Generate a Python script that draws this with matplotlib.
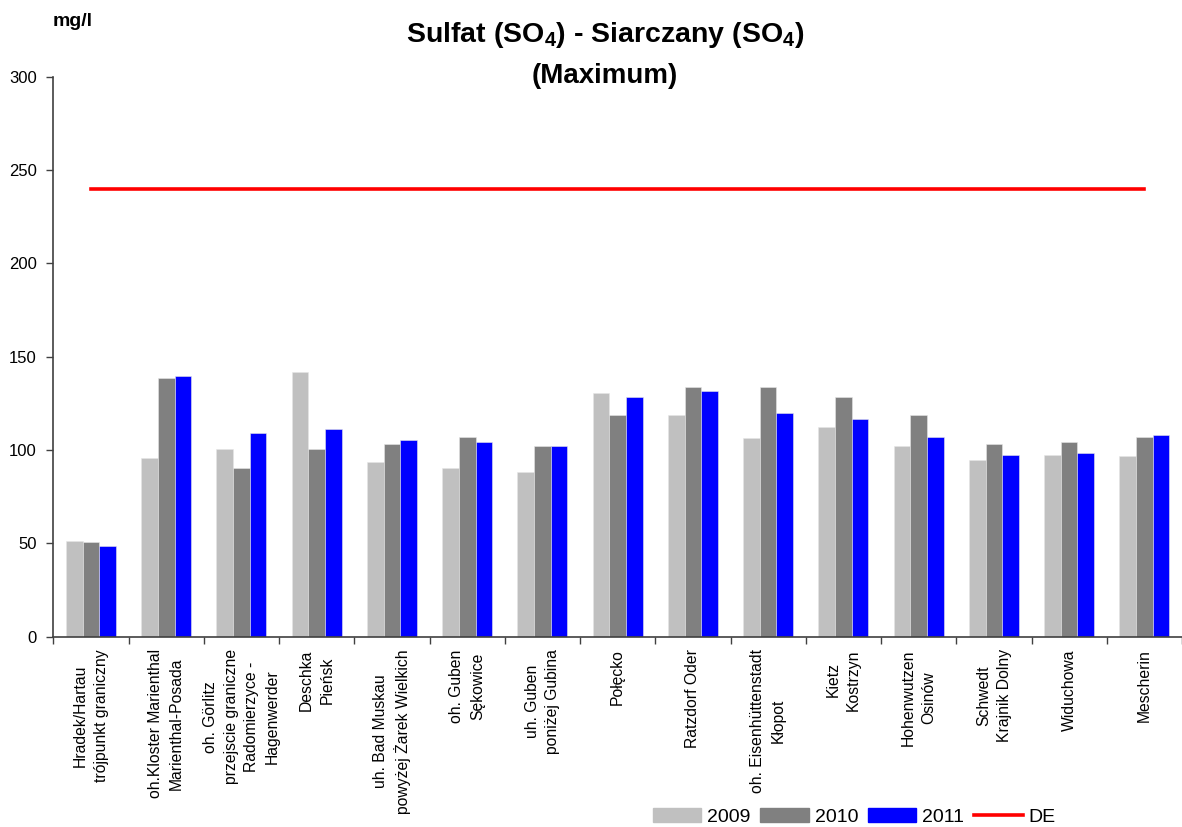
import numpy as np
import matplotlib
matplotlib.use('Agg')
import matplotlib.pyplot as plt
from matplotlib.lines import Line2D
from matplotlib.patches import Patch

plt.rcParams['font.family'] = ['Liberation Sans', 'DejaVu Sans']
plt.rcParams['mathtext.fontset'] = 'custom'
plt.rcParams['mathtext.rm'] = 'Liberation Sans'
plt.rcParams['mathtext.bf'] = 'Liberation Sans:bold'

# measuring stations
stations = [
    'Hradek/Hartau\ntrójpunkt graniczny',
    'oh.Kloster Marienthal\nMarienthal-Posada',
    'oh. Görlitz\nprzejscie graniczne\nRadomierzyce -\nHagenwerder',
    'Deschka\nPieńsk',
    'uh. Bad Muskau\npowyżej Żarek Wielkich',
    'oh. Guben\nSękowice',
    'uh. Guben\nponiżej Gubina',
    'Połęcko',
    'Ratzdorf Oder',
    'oh. Eisenhüttenstadt\nKłopot',
    'Kietz\nKostrzyn',
    'Hohenwutzen\nOsinów',
    'Schwedt\nKrajnik Dolny',
    'Widuchowa',
    'Mescherin',
]

# sulfate maximum [mg/l]
v2009 = [51.4, 95.7, 100.4, 141.6, 93.6, 90.6, 88.1, 130.7, 118.8, 106.5, 112.2, 102.3, 94.7, 97.2, 96.6]
v2010 = [50.6, 138.4, 90.6, 100.4, 103.4, 107.0, 102.3, 118.8, 133.8, 133.8, 128.6, 118.8, 103.4, 104.5, 107.0]
v2011 = [48.8, 139.5, 109.0, 111.1, 105.5, 104.5, 102.3, 128.6, 131.8, 119.8, 116.8, 107.0, 97.2, 98.2, 108.0]
de_limit = 240.0  # DE limit value [mg/l]

years = ['2009', '2010', '2011']
colors = ['#C0C0C0', '#808080', '#0000FF']

W, H = 1182, 827
fig = plt.figure(figsize=(W / 100, H / 100), dpi=100)
ax = fig.add_axes([53.3 / W, 1 - 636.7 / H, (W - 53.3) / W, (636.7 - 76.7) / H])

x = np.arange(len(stations))
bw = 0.222
for i, (vals, c) in enumerate(zip([v2009, v2010, v2011], colors)):
    ax.bar(x + (i - 1) * bw, vals, width=bw, color=c, edgecolor='#e6e6e6', linewidth=0.4, zorder=2)

ax.plot([x[0], x[-1]], [de_limit, de_limit], color='#FF0000', lw=2.6, zorder=3)

ax.set_xlim(-0.5, 14.5 - 9 / 75.84)
ax.set_ylim(0, 300)
ax.set_yticks(np.arange(0, 301, 50))
ax.tick_params(axis='y', direction='out', length=5, width=1, colors='#404040', labelcolor='black',
               labelsize=12, pad=7)

# category boundaries as major ticks, names on minor ticks
ax.set_xticks(np.arange(-0.5, 15, 1.0))
ax.set_xticklabels([])
ax.set_xticks(x, minor=True)
ax.set_xticklabels(stations, minor=True, rotation=90, ha='center', va='top',
                   multialignment='center', linespacing=1.45, fontsize=11.3)
ax.tick_params(axis='x', which='major', direction='out', length=5, width=1, colors='#404040')
ax.tick_params(axis='x', which='minor', length=0, pad=9, labelcolor='black')

for s in ['top', 'right']:
    ax.spines[s].set_visible(False)
for s in ['left', 'bottom']:
    ax.spines[s].set_color('#404040')
    ax.spines[s].set_linewidth(1.2)

fig.text(605 / W, 1 - 35 / H, r'Sulfat (SO$_\mathbf{4}$) - Siarczany (SO$_\mathbf{4}$)',
         ha='center', va='center', fontsize=20.5, fontweight='bold')
fig.text(605 / W, 1 - 76 / H, '(Maximum)', ha='center', va='center', fontsize=20, fontweight='bold')
fig.text(53 / W, 1 - 22 / H, 'mg/l', ha='left', va='center', fontsize=14, fontweight='bold')

handles = [Patch(color=c) for c in colors] + [Line2D([], [], color='#FF0000', lw=2.6)]
fig.legend(handles, years + ['DE'], loc='center', bbox_to_anchor=(854 / W, 1 - 817 / H),
           ncol=4, frameon=False, fontsize=14, handlelength=2.5, handleheight=0.7,
           handletextpad=0.3, columnspacing=0.5, borderpad=0)

fig.savefig('out.png', dpi=100)
